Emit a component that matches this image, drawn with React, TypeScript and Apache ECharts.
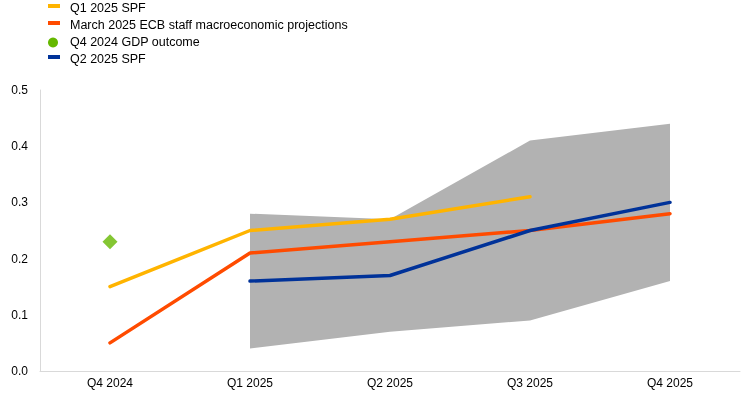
import React, { useEffect, useRef } from "react";
import * as echarts from "echarts";

const categories = ["Q4 2024", "Q1 2025", "Q2 2025", "Q3 2025", "Q4 2025"];
const spfQ1 = [0.15, 0.25, 0.27, 0.31, null];
const ecbMarch = [0.05, 0.21, 0.23, 0.25, 0.28];
const gdpOutcome = [0.23, null, null, null, null];
const spfQ2 = [null, 0.16, 0.17, 0.25, 0.3];
const bandLow = [null, 0.04, 0.07, 0.09, 0.16];
const bandHigh = [null, 0.28, 0.27, 0.41, 0.44];
const yTicks = [0, 0.1, 0.2, 0.3, 0.4, 0.5];

const legendItems = [
  { name: "Q1 2025 SPF", color: "#FFB400", kind: "dash" },
  { name: "March 2025 ECB staff macroeconomic projections", color: "#FF4B00", kind: "dash" },
  { name: "Q4 2024 GDP outcome", color: "#65B800", kind: "dot" },
  { name: "Q2 2025 SPF", color: "#003299", kind: "dash" },
];

const FONT = "'Liberation Sans', Arial, sans-serif";

export default function App() {
  const ref = useRef<HTMLDivElement>(null);
  useEffect(() => {
    if (!ref.current) return;
    const chart = echarts.init(ref.current, null, { renderer: "svg" });
    const bandDiff = bandHigh.map((h, i) =>
      h == null || bandLow[i] == null ? null : +(h - (bandLow[i] as number)).toFixed(4)
    );
    const graphic: any[] = [];
    legendItems.forEach((it, i) => {
      const cy = 8 + i * 17;
      if (it.kind === "dash") {
        graphic.push({ type: "rect", shape: { x: 48, y: cy - 4, width: 12, height: 4 }, style: { fill: it.color } });
      } else {
        graphic.push({ type: "circle", shape: { cx: 53, cy: cy + 0.5, r: 5 }, style: { fill: it.color } });
      }
      graphic.push({
        type: "text",
        x: 70,
        y: cy,
        style: { text: it.name, fill: "#000", font: `12.5px ${FONT}`, verticalAlign: "middle" },
      });
    });
    chart.setOption({
      animation: false,
      textStyle: { fontFamily: FONT },
      grid: { left: 40, right: 4, top: 90, bottom: 27 },
      graphic,
      xAxis: {
        type: "category",
        data: categories,
        boundaryGap: true,
        axisLine: { lineStyle: { color: "#d9d9d9" } },
        axisTick: { show: false },
        axisLabel: { color: "#000", fontSize: 12, fontFamily: FONT, margin: 6 },
      },
      yAxis: {
        type: "value",
        min: yTicks[0],
        max: yTicks[yTicks.length - 1],
        interval: 0.1,
        axisLine: { show: true, lineStyle: { color: "#d9d9d9" } },
        axisTick: { show: false },
        splitLine: { show: false },
        axisLabel: {
          color: "#000",
          fontSize: 12,
          fontFamily: FONT,
          margin: 12,
          formatter: (v: number) => v.toFixed(1),
        },
      },
      series: [
        {
          type: "line",
          data: bandLow,
          stack: "band",
          symbol: "none",
          lineStyle: { width: 0, opacity: 0 },
          silent: true,
        },
        {
          type: "line",
          data: bandDiff,
          stack: "band",
          symbol: "none",
          lineStyle: { width: 0, opacity: 0 },
          areaStyle: { color: "#b2b2b2", opacity: 1 },
          silent: true,
        },
        {
          name: "Q1 2025 SPF",
          type: "line",
          data: spfQ1,
          symbol: "none",
          lineStyle: { color: "#FFB400", width: 3.5, cap: "round", join: "round" },
        },
        {
          name: "March 2025 ECB staff macroeconomic projections",
          type: "line",
          data: ecbMarch,
          symbol: "none",
          lineStyle: { color: "#FF4B00", width: 3.5, cap: "round", join: "round" },
        },
        {
          name: "Q2 2025 SPF",
          type: "line",
          data: spfQ2,
          symbol: "none",
          lineStyle: { color: "#003299", width: 3.5, cap: "round", join: "round" },
        },
        {
          name: "Q4 2024 GDP outcome",
          type: "scatter",
          data: gdpOutcome,
          symbol: "diamond",
          symbolSize: [15, 15],
          itemStyle: { color: "#65B800" },
        },
      ],
    });
    return () => chart.dispose();
  }, []);
  return <div ref={ref} style={{ width: 744, height: 398, position: "fixed", left: 0, top: 0 }} />;
}
